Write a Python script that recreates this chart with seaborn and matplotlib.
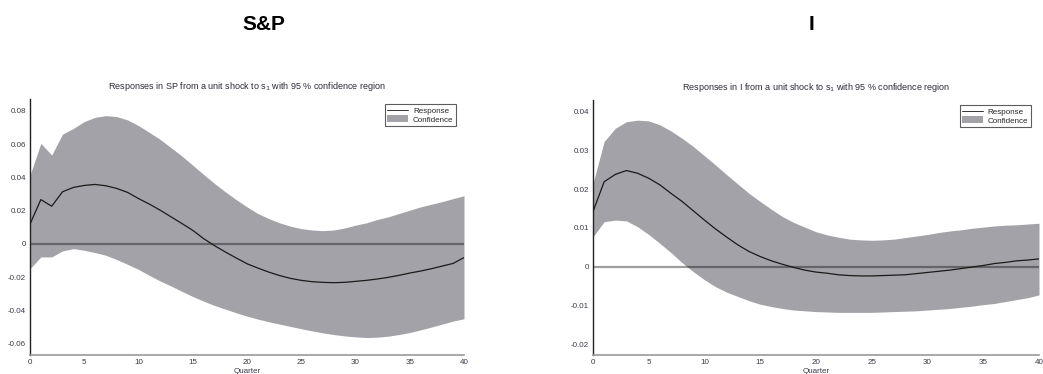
import numpy as np
import pandas as pd
import matplotlib
matplotlib.use("Agg")
import matplotlib.pyplot as plt
import seaborn as sns
from matplotlib.lines import Line2D
from matplotlib.patches import Patch

quarters = list(range(41))

sp_response = [0.0119, 0.0267, 0.0227, 0.0314, 0.0340, 0.0352, 0.0358, 0.0350, 0.0334, 0.0310,
               0.0273, 0.0240, 0.0203, 0.0163, 0.0123, 0.0082, 0.0032, -0.0010, -0.0048, -0.0084,
               -0.0119, -0.0145, -0.0169, -0.0190, -0.0207, -0.0219, -0.0227, -0.0231, -0.0233, -0.0231,
               -0.0225, -0.0219, -0.0211, -0.0201, -0.0189, -0.0175, -0.0163, -0.0149, -0.0133, -0.0117,
               -0.0082]
sp_upper = [0.0414, 0.0605, 0.0535, 0.0661, 0.0695, 0.0736, 0.0762, 0.0772, 0.0766, 0.0746,
            0.0712, 0.0671, 0.0629, 0.0579, 0.0529, 0.0474, 0.0418, 0.0364, 0.0314, 0.0267,
            0.0223, 0.0183, 0.0153, 0.0127, 0.0107, 0.0092, 0.0084, 0.0080, 0.0084, 0.0096,
            0.0113, 0.0127, 0.0147, 0.0163, 0.0183, 0.0203, 0.0223, 0.0239, 0.0255, 0.0273,
            0.0290]
sp_lower = [-0.0149, -0.0078, -0.0078, -0.0042, -0.0028, -0.0038, -0.0052, -0.0068, -0.0094, -0.0123,
            -0.0153, -0.0189, -0.0223, -0.0253, -0.0285, -0.0316, -0.0344, -0.0370, -0.0392, -0.0414,
            -0.0434, -0.0452, -0.0468, -0.0482, -0.0496, -0.0510, -0.0523, -0.0535, -0.0545, -0.0553,
            -0.0559, -0.0563, -0.0561, -0.0555, -0.0545, -0.0533, -0.0517, -0.0500, -0.0482, -0.0464,
            -0.0450]

i_response = [0.0142, 0.0219, 0.0238, 0.0248, 0.0241, 0.0228, 0.0211, 0.0189, 0.0168, 0.0144,
              0.0120, 0.0097, 0.0076, 0.0056, 0.0039, 0.0026, 0.0015, 0.0006, -0.0002, -0.0009,
              -0.0014, -0.0017, -0.0021, -0.0023, -0.0024, -0.0024, -0.0023, -0.0022, -0.0021, -0.0018,
              -0.0015, -0.0012, -0.0009, -0.0005, -0.0001, 0.0003, 0.0008, 0.0011, 0.0015, 0.0017,
              0.0020]
i_upper = [0.0215, 0.0323, 0.0357, 0.0374, 0.0378, 0.0376, 0.0366, 0.0350, 0.0331, 0.0310,
           0.0286, 0.0262, 0.0237, 0.0213, 0.0189, 0.0168, 0.0148, 0.0129, 0.0114, 0.0102,
           0.0090, 0.0082, 0.0076, 0.0071, 0.0069, 0.0068, 0.0069, 0.0071, 0.0075, 0.0079,
           0.0083, 0.0088, 0.0092, 0.0095, 0.0099, 0.0102, 0.0105, 0.0107, 0.0108, 0.0110,
           0.0112]
i_lower = [0.0077, 0.0116, 0.0120, 0.0118, 0.0103, 0.0083, 0.0060, 0.0036, 0.0010, -0.0013,
           -0.0034, -0.0052, -0.0066, -0.0077, -0.0088, -0.0097, -0.0103, -0.0108, -0.0112, -0.0114,
           -0.0116, -0.0117, -0.0118, -0.0118, -0.0118, -0.0118, -0.0117, -0.0116, -0.0115, -0.0114,
           -0.0112, -0.0110, -0.0108, -0.0105, -0.0102, -0.0098, -0.0095, -0.0090, -0.0085, -0.0080,
           -0.0073]

sp_yticks = [-0.06, -0.04, -0.02, 0, 0.02, 0.04, 0.06, 0.08]
sp_yticklabels = ["-0.06", "-0.04", "-0.02", "0", "0.02", "0.04", "0.06", "0.08"]
i_yticks = [-0.02, -0.01, 0, 0.01, 0.02, 0.03, 0.04]
i_yticklabels = ["-0.02", "-0.01", "0", "0.01", "0.02", "0.03", "0.04"]
xticks = [0, 5, 10, 15, 20, 25, 30, 35, 40]

sns.set_theme(style="white")
plt.rcParams['font.family'] = ['Liberation Sans', 'DejaVu Sans']

fig = plt.figure(figsize=(10.43, 3.74), dpi=100)
ax1 = fig.add_axes([30/1043, 1-355/374, (464-30)/1043, (355-99)/374])
ax2 = fig.add_axes([593/1043, 1-355/374, (1039-593)/1043, (355-100)/374])

band_color = "#a3a2a8"
tick_color = "#3a3a4a"

panels = [
    (ax1, sp_response, sp_upper, sp_lower, sp_yticks, sp_yticklabels, (-0.0668, 0.0872),
     r"Responses in SP from a unit shock to s$_1$ with 95 % confidence region"),
    (ax2, i_response, i_upper, i_lower, i_yticks, i_yticklabels, (-0.0228, 0.0430),
     r"Responses in I from a unit shock to s$_1$ with 95 % confidence region"),
]

for ax, resp, up, lo, yt, ytl, ylim, title in panels:
    df = pd.DataFrame({"Quarter": quarters, "Response": resp})
    ax.fill_between(quarters, lo, up, color=band_color, linewidth=0, zorder=1)
    ax.axhline(0, color="black", alpha=0.38, linewidth=1.6, zorder=2)
    sns.lineplot(data=df, x="Quarter", y="Response", ax=ax, color="#1a1a1a",
                 linewidth=0.9, zorder=3)
    ax.set_xlim(0, 40)
    ax.set_ylim(*ylim)
    ax.set_xticks(xticks)
    ax.set_xticklabels([str(x) for x in xticks])
    ax.set_yticks(yt)
    ax.set_yticklabels(ytl)
    ax.tick_params(axis="both", direction="in", length=3.5, width=0.8, colors="#444444",
                   labelsize=5.8, labelcolor=tick_color, pad=3)
    ax.set_xlabel("Quarter", fontsize=5.8, color=tick_color, labelpad=1)
    ax.set_ylabel("")
    ax.set_title(title, fontsize=6.5, color="#2a2a3a", pad=7)
    for s in ["top", "right"]:
        ax.spines[s].set_visible(False)
    ax.spines["left"].set_color("#222222")
    ax.spines["left"].set_linewidth(1.0)
    ax.spines["bottom"].set_color("#999999")
    ax.spines["bottom"].set_linewidth(1.2)
    handles = [Line2D([0], [0], color="#333333", linewidth=0.7),
               Patch(facecolor=band_color, edgecolor="none")]
    leg = ax.legend(handles, ["Response", "Confidence"], loc="upper right",
                    bbox_to_anchor=(0.985, 0.985), fontsize=5.8, frameon=True,
                    fancybox=False, borderpad=0.3, labelspacing=0.05,
                    handlelength=2.6, handleheight=0.9, handletextpad=0.6,
                    borderaxespad=0.2)
    leg.get_frame().set_edgecolor("#333333")
    leg.get_frame().set_linewidth(0.8)

fig.text(264/1043, 1-25/374, "S&P", ha="center", va="center", fontsize=15,
         fontweight="bold", color="black")
fig.text(812/1043, 1-25/374, "I", ha="center", va="center", fontsize=15,
         fontweight="bold", color="black")

fig.savefig("out.png", dpi=100)
